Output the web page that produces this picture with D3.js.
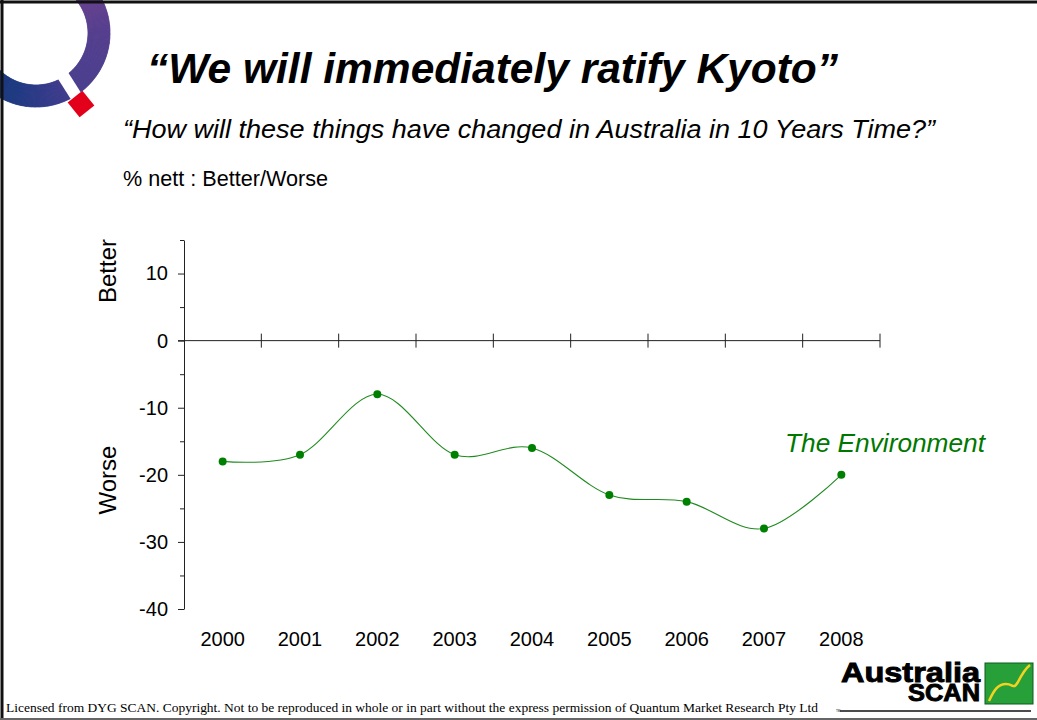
<!DOCTYPE html>
<html>
<head>
<meta charset="utf-8">
<script src="https://cdn.jsdelivr.net/npm/d3@7"></script>
<style>
  html, body { margin: 0; padding: 0; background: #fff; }
  svg { display: block; }
</style>
</head>
<body>
<svg id="chart" width="1037" height="720"></svg>
<script>
// Survey series: nett % saying "The Environment" will be Better (+) or Worse (-)
const years = ["2000", "2001", "2002", "2003", "2004", "2005", "2006", "2007", "2008"];
const environment = [-18, -17, -8, -17, -16, -23, -24, -28, -20];
const majorTicks = [-40, -30, -20, -10, 0, 10];
const minorTicks = [-35, -25, -15, -5, 5, 15];
const seriesName = "The Environment";

const svg = d3.select("#chart");
const font = "'Liberation Sans', Arial, sans-serif";

// ---------- corner emblem (ring + red diamond) ----------
const emblem = svg.append("g");
const cx = 36, cy = 33, rIn = 52, rOut = 74;
const ringColor = d3.scaleLinear()
  .domain([0, 20, 50, 90, 140, 160, 200, 280])
  .range(["#b05470", "#a0507c", "#6a4390", "#553f8e", "#4b3f8e", "#3c3c8c", "#1f3a82", "#15357a"])
  .interpolate(d3.interpolateRgb);
const arcGen = d3.arc().innerRadius(rIn).outerRadius(rOut);
for (let a = -10; a < 290; a += 1) {
  const c = ringColor(Math.max(0, a));
  emblem.append("path")
    .attr("transform", `translate(${cx},${cy})`)
    .attr("d", arcGen({ startAngle: a * Math.PI / 180, endAngle: (a + 1.5) * Math.PI / 180 }))
    .attr("fill", c).attr("stroke", c).attr("stroke-width", 0.6);
}
// slot cut through the ring toward the diamond
const slotAngle = Math.atan2(104 - cy, 81 - cx) * 180 / Math.PI;
emblem.append("rect")
  .attr("x", 40).attr("y", -6).attr("width", 45).attr("height", 12)
  .attr("fill", "#fff")
  .attr("transform", `translate(${cx},${cy}) rotate(${slotAngle})`);
emblem.append("rect")
  .attr("x", -9.5).attr("y", -9.5).attr("width", 19).attr("height", 19)
  .attr("fill", "#e2001a")
  .attr("transform", "translate(81,104) rotate(51)");

// ---------- frame ----------
svg.append("line").attr("x1", 0).attr("x2", 1037).attr("y1", 2).attr("y2", 2)
  .attr("stroke", "#111").attr("stroke-width", 3);
svg.append("line").attr("x1", 2).attr("x2", 2).attr("y1", 0).attr("y2", 720)
  .attr("stroke", "#111").attr("stroke-width", 3);
svg.append("line").attr("x1", 0).attr("x2", 1037).attr("y1", 719).attr("y2", 719)
  .attr("stroke", "#666").attr("stroke-width", 2);

// ---------- titles ----------
svg.append("text")
  .attr("x", 147).attr("y", 83)
  .attr("font-family", font).attr("font-size", 42).attr("font-weight", "bold").attr("font-style", "italic")
  .attr("textLength", 691).attr("lengthAdjust", "spacingAndGlyphs")
  .text("\u201CWe will immediately ratify Kyoto\u201D");
svg.append("text")
  .attr("x", 123).attr("y", 138)
  .attr("font-family", font).attr("font-size", 26).attr("font-style", "italic")
  .attr("textLength", 812).attr("lengthAdjust", "spacingAndGlyphs")
  .text("\u201CHow will these things have changed in Australia in 10 Years Time?\u201D");
svg.append("text")
  .attr("x", 123).attr("y", 186)
  .attr("font-family", font).attr("font-size", 21.5)
  .attr("textLength", 205).attr("lengthAdjust", "spacingAndGlyphs")
  .text("% nett : Better/Worse");

// ---------- scales ----------
const x = d3.scaleBand().domain(years).range([184, 880]).padding(0);
const y = d3.scaleLinear().domain([-40, 15]).range([609, 240]);
const xc = d => x(d) + x.bandwidth() / 2;

// ---------- y axis ----------
const yAxis = svg.append("g").attr("transform", "translate(184,0)")
  .call(d3.axisLeft(y).tickValues(majorTicks).tickSize(6).tickSizeOuter(0).tickPadding(10)
    .tickFormat(d => String(d)));
yAxis.select(".domain").attr("stroke", "#222");
yAxis.selectAll(".tick line").attr("stroke", "#222");
yAxis.selectAll("text").attr("font-family", font).attr("font-size", 20).attr("fill", "#000");

const yMinor = svg.append("g").attr("transform", "translate(184,0)")
  .call(d3.axisLeft(y).tickValues(minorTicks).tickSize(4).tickSizeOuter(0).tickFormat(""));
yMinor.select(".domain").remove();
yMinor.selectAll(".tick line").attr("stroke", "#222");

// ---------- zero line with category ticks ----------
svg.append("line")
  .attr("x1", 178).attr("x2", x.range()[1])
  .attr("y1", y(0)).attr("y2", y(0))
  .attr("stroke", "#222");
svg.append("g").selectAll("line")
  .data(years)
  .join("line")
  .attr("x1", d => x(d) + x.bandwidth()).attr("x2", d => x(d) + x.bandwidth())
  .attr("y1", y(0) - 7).attr("y2", y(0) + 7)
  .attr("stroke", "#222");

// ---------- year labels ----------
const xAxis = svg.append("g").attr("transform", "translate(0,609)")
  .call(d3.axisBottom(x).tickSize(0).tickPadding(23));
xAxis.select(".domain").remove();
xAxis.selectAll("text").attr("font-family", font).attr("font-size", 20).attr("fill", "#000");

// ---------- axis side labels ----------
svg.append("text")
  .attr("transform", `translate(116,${271}) rotate(-90)`)
  .attr("text-anchor", "middle")
  .attr("font-family", font).attr("font-size", 24)
  .text("Better");
svg.append("text")
  .attr("transform", `translate(116,${480}) rotate(-90)`)
  .attr("text-anchor", "middle")
  .attr("font-family", font).attr("font-size", 24)
  .text("Worse");

// ---------- series ----------
const pts = years.map((yr, i) => ({ year: yr, value: environment[i] }));
const line = d3.line()
  .x(d => xc(d.year))
  .y(d => y(d.value))
  .curve(d3.curveCardinal.tension(0));
svg.append("path")
  .datum(pts)
  .attr("d", line)
  .attr("fill", "none")
  .attr("stroke", "#1f8a1f")
  .attr("stroke-width", 1.1);
svg.append("g").selectAll("circle")
  .data(pts)
  .join("circle")
  .attr("cx", d => xc(d.year))
  .attr("cy", d => y(d.value))
  .attr("r", 4)
  .attr("fill", "#008000");

svg.append("text")
  .attr("x", 785).attr("y", 452)
  .attr("font-family", font).attr("font-size", 26).attr("font-style", "italic")
  .attr("fill", "#007800")
  .attr("textLength", 200).attr("lengthAdjust", "spacingAndGlyphs")
  .text(seriesName);

// ---------- footer ----------
svg.append("text")
  .attr("x", 6).attr("y", 712)
  .attr("font-family", "'Liberation Serif', 'Times New Roman', serif").attr("font-size", 11.5)
  .attr("textLength", 812).attr("lengthAdjust", "spacingAndGlyphs")
  .text("Licensed from DYG SCAN. Copyright. Not to be reproduced in whole or in part without the express permission of Quantum Market Research Pty Ltd");

// ---------- brand mark ----------
const brand = svg.append("g");
brand.append("text")
  .attr("x", 980).attr("y", 682).attr("text-anchor", "end")
  .attr("font-family", font).attr("font-size", 27).attr("font-weight", 900)
  .attr("stroke", "#000").attr("stroke-width", 0.9)
  .attr("textLength", 139).attr("lengthAdjust", "spacingAndGlyphs")
  .text("Australia");
brand.append("text")
  .attr("x", 980).attr("y", 701).attr("text-anchor", "end")
  .attr("font-family", font).attr("font-size", 23).attr("font-weight", 900)
  .attr("stroke", "#000").attr("stroke-width", 0.9)
  .attr("textLength", 72).attr("lengthAdjust", "spacingAndGlyphs")
  .text("SCAN");
brand.append("rect")
  .attr("x", 985).attr("y", 663).attr("width", 48).attr("height", 41)
  .attr("fill", "#27a03a").attr("stroke", "#0c5a1c").attr("stroke-width", 1);
brand.append("path")
  .attr("d", "M989,701 C994,690 998,684 1006,684 C1014,684 1013,690 1018,682 C1022,674 1025,669 1030,665")
  .attr("fill", "none").attr("stroke", "#f4d320").attr("stroke-width", 2.5);
brand.append("line")
  .attr("x1", 840).attr("x2", 1031).attr("y1", 711).attr("y2", 711)
  .attr("stroke", "#111").attr("stroke-width", 1.5);
brand.append("text")
  .attr("x", 836).attr("y", 712)
  .attr("font-family", font).attr("font-size", 3)
  .text("TM");
</script>
</body>
</html>
